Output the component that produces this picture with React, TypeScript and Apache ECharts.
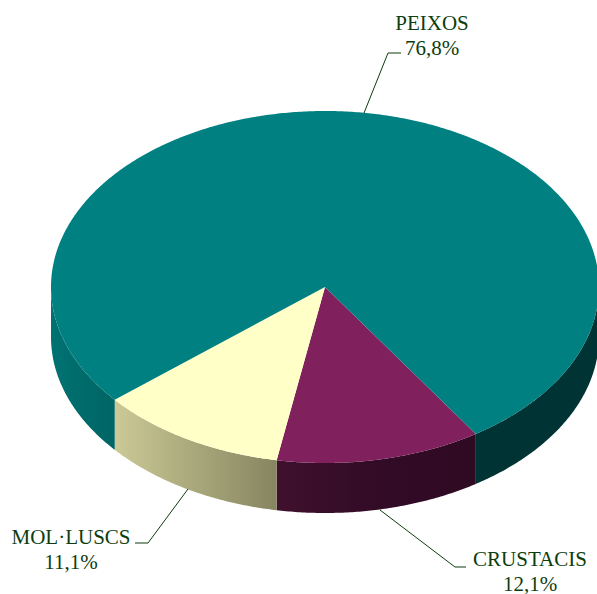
import React, { useEffect, useRef } from "react";
import * as echarts from "echarts";

const categories = ["CRUSTACIS", "MOL·LUSCS", "PEIXOS"];
const values = [12.1, 11.1, 76.8];
const valueLabels = ["12,1%", "11,1%", "76,8%"];
const topColors = ["#80215d", "#ffffc7", "#008080"];
const sideStops = [
  [[277, "#3f102d"], [380, "#320b26"], [475, "#2f0a23"]],
  [[115, "#cbc995"], [277, "#868560"]],
  [[51, "#007272"], [115, "#006464"], [475, "#003333"], [599, "#003333"]],
];
const labelAnchors = [
  [530, 571],
  [71, 549],
  [432, 35],
];
const leaderLines = [
  [[380, 510], [455, 567], [466, 567]],
  [[188, 489], [148, 543], [135, 543]],
  [[364, 113], [388, 53], [401, 53]],
];

const CX = 325;
const CY = 287;
const RX = 274;
const RY = 176;
const DEPTH = 50;
const START_DEG = 56.6;
const LABEL_COLOR = "#0d3d0d";
const FONT = "'Liberation Serif', 'Times New Roman', serif";

const rad = (d: number) => (d * Math.PI) / 180;
const rimPoint = (deg: number, dy = 0) => [CX + RX * Math.cos(rad(deg)), CY + RY * Math.sin(rad(deg)) + dy];

function arcPoints(a: number, b: number, dy = 0) {
  const pts: number[][] = [];
  const n = Math.max(2, Math.ceil(Math.abs(b - a) / 0.5));
  for (let i = 0; i <= n; i++) pts.push(rimPoint(a + ((b - a) * i) / n, dy));
  return pts;
}

function sidePiece(a: number, b: number, stops: any[]) {
  const x0 = stops[0][0];
  const x1 = stops[stops.length - 1][0];
  const fill = new echarts.graphic.LinearGradient(
    x0, 0, x1, 0,
    stops.map((s) => ({ offset: (s[0] - x0) / (x1 - x0), color: s[1] })),
    true
  );
  return {
    type: "polygon",
    shape: { points: [...arcPoints(a, b), ...arcPoints(b, a, DEPTH)] },
    style: { fill },
  };
}

function renderSlice(params: any, api: any) {
  const i = params.dataIndex;
  const total = values.reduce((s, v) => s + v, 0);
  const before = values.slice(0, i).reduce((s, v) => s + v, 0);
  const a = START_DEG + (before / total) * 360;
  const b = a + (api.value(0) / total) * 360;
  const children: any[] = [];
  // only the front half of the rim (0..180 and 360..540 degrees) is visible
  for (const [lo, hi] of [[0, 180], [360, 540]]) {
    const s = Math.max(a, lo);
    const e = Math.min(b, hi);
    if (e > s) children.push(sidePiece(s, e, sideStops[i]));
  }
  children.push({
    type: "polygon",
    shape: { points: [[CX, CY], ...arcPoints(a, b)] },
    style: { fill: topColors[i] },
  });
  return { type: "group", children };
}

export default function App() {
  const ref = useRef<HTMLDivElement>(null);
  useEffect(() => {
    const chart = echarts.init(ref.current!, undefined, { renderer: "svg" });
    const graphic: any[] = [];
    leaderLines.forEach((points) => {
      graphic.push({
        type: "polyline",
        z: 10,
        shape: { points },
        style: { stroke: LABEL_COLOR, lineWidth: 1, fill: "none" },
      });
    });
    categories.forEach((name, i) => {
      graphic.push({
        type: "text",
        z: 10,
        x: labelAnchors[i][0],
        y: labelAnchors[i][1],
        style: {
          text: `${name}\n${valueLabels[i]}`,
          fill: LABEL_COLOR,
          font: `21px ${FONT}`,
          lineHeight: 25,
          align: "center",
          verticalAlign: "middle",
        },
      });
    });
    chart.setOption({
      animation: false,
      backgroundColor: "#ffffff",
      graphic,
      series: [
        {
          type: "custom",
          coordinateSystem: "none",
          renderItem: renderSlice,
          data: values.map((v, i) => ({ name: categories[i], value: [v] })),
          silent: true,
        },
      ],
    });
    return () => chart.dispose();
  }, []);
  return <div ref={ref} style={{ position: "absolute", left: 0, top: 0, width: 597, height: 594 }} />;
}
